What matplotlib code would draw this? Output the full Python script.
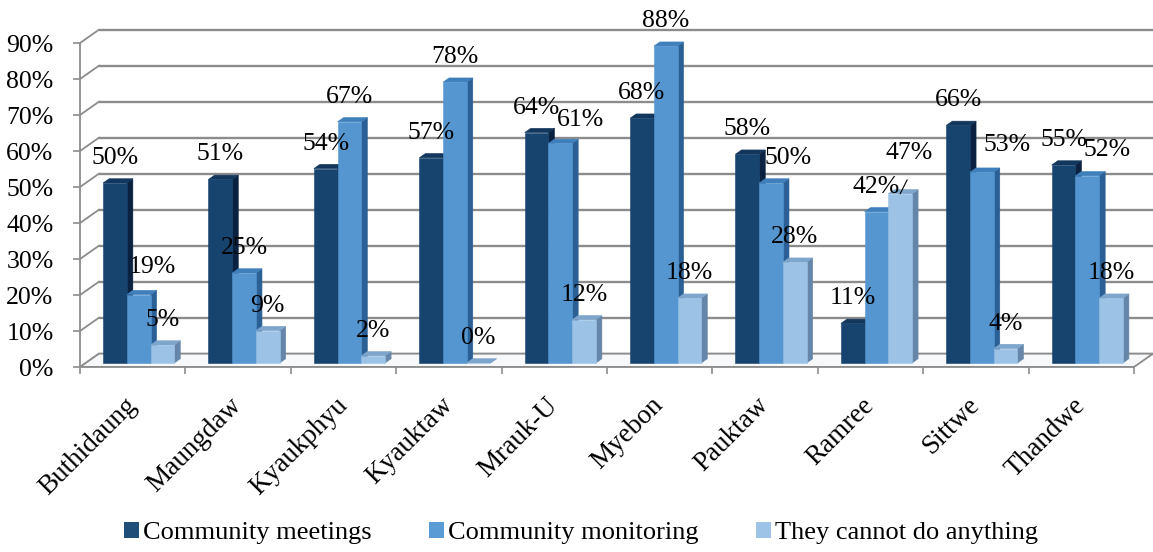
import numpy as np
import matplotlib
matplotlib.use('Agg')
import matplotlib.pyplot as plt
from matplotlib.patches import Polygon, Patch
from matplotlib.transforms import ScaledTranslation

plt.rcParams['font.family'] = ['Liberation Serif', 'DejaVu Serif']

townships = ['Buthidaung', 'Maungdaw', 'Kyaukphyu', 'Kyauktaw', 'Mrauk-U',
             'Myebon', 'Pauktaw', 'Ramree', 'Sittwe', 'Thandwe']
series_names = ['Community meetings', 'Community monitoring', 'They cannot do anything']
meetings = [50, 51, 54, 57, 64, 68, 58, 11, 66, 55]
monitoring = [19, 25, 67, 78, 61, 88, 50, 42, 53, 52]
cannot = [5, 9, 2, 0, 12, 18, 28, 47, 4, 18]
y_ticks = [0, 10, 20, 30, 40, 50, 60, 70, 80, 90]

# face colours per series: front, side, top
front_cols = ['#17436f', '#5596d1', '#9cc3e6']
side_cols = ['#0a223f', '#2a6096', '#6586a8']
top_cols = ['#12365c', '#3f7fbc', '#7ea5cb']
legend_cols = ['#1f4e79', '#5b9bd5', '#9dc3e6']

# 3d depth of the chart box (category units, percent units)
DX, DY = 0.18, 3.7
D1, D2 = 0.30, 0.62          # bar front / back depth fractions
BAR_W, GROUP_START = 0.225, 0.165
grid_col = '#8c8c8c'

fig = plt.figure(figsize=(11.53, 5.52), dpi=100)
ax = fig.add_axes([80 / 1153, 185 / 552, 1073 / 1153, 94 * 3.6 / 552])
xmax = 1073 / 105.4
ax.set_xlim(0, xmax)
ax.set_ylim(0, 94)

# walls: back gridlines and the short diagonals on the left wall
for g in y_ticks:
    ax.plot([DX, xmax + 0.2], [g + DY, g + DY], color=grid_col, lw=1.7,
            zorder=1, clip_on=False, solid_capstyle='butt')
    ax.plot([0, DX], [g, g + DY], color=grid_col, lw=1.3, zorder=1)

# floor
floor = Polygon([(0, 0), (10, 0), (10 + DX, DY), (DX, DY)], closed=True,
                facecolor='#f7f8fa', edgecolor=grid_col, lw=1.3, zorder=1.5)
ax.add_patch(floor)

series = [meetings, monitoring, cannot]
label_shift = {(0, 1): (14, 28), (4, 1): (20, 23), (6, 1): (17, 25),
               (7, 2): (9, 41), (8, 1): (25, 27), (9, 1): (20, 26)}

for i in range(len(townships)):
    for j, vals in enumerate(series):
        v = vals[i]
        k = i * 3 + j
        x0 = i + GROUP_START + j * BAR_W
        x1 = x0 + BAR_W
        z = 3 + 0.01 * k
        side = Polygon([(x1 + D1 * DX, D1 * DY), (x1 + D2 * DX, D2 * DY),
                        (x1 + D2 * DX, v + D2 * DY), (x1 + D1 * DX, v + D1 * DY)],
                       closed=True, facecolor=side_cols[j], edgecolor=side_cols[j],
                       lw=0.4, zorder=z)
        top = Polygon([(x0 + D1 * DX, v + D1 * DY), (x1 + D1 * DX, v + D1 * DY),
                       (x1 + D2 * DX, v + D2 * DY), (x0 + D2 * DX, v + D2 * DY)],
                      closed=True, facecolor=top_cols[j], edgecolor=top_cols[j],
                      lw=0.4, zorder=z)
        ax.add_patch(side)
        ax.add_patch(top)
        bar = ax.bar(x0 + D1 * DX, v, width=BAR_W, bottom=D1 * DY, align='edge',
                     color=front_cols[j], edgecolor=front_cols[j], lw=0.4)
        bar.patches[0].set_zorder(z + 0.005)

        cx = x0 + D1 * DX + BAR_W / 2
        dx, dy = label_shift.get((i, j), (0, 25))
        ax.annotate(f'{v}%', xy=(cx, v + D1 * DY), xytext=(dx * 0.72, dy * 0.72),
                    textcoords='offset points', ha='center', va='center',
                    fontsize=18.5, color='black', zorder=10)
        if (i, j) == (7, 2):
            ax.annotate('', xy=(cx, v + D1 * DY), xytext=(7 * 0.72, 14 * 0.72),
                        textcoords='offset points',
                        arrowprops=dict(arrowstyle='-', color='black', lw=0.8,
                                        shrinkA=0, shrinkB=0), zorder=10)

# axes
for s in ['top', 'right']:
    ax.spines[s].set_visible(False)
ax.spines['left'].set_color(grid_col)
ax.spines['left'].set_linewidth(1.3)
ax.spines['left'].set_bounds(0, 90)
ax.spines['bottom'].set_color(grid_col)
ax.spines['bottom'].set_linewidth(1.3)
ax.spines['bottom'].set_bounds(0, 10)
ax.spines['bottom'].set_zorder(2)

ax.set_yticks(y_ticks)
ax.set_yticklabels([f'{t}%' for t in y_ticks], fontsize=18.5)
ax.tick_params(axis='y', length=5, width=1.2, color=grid_col, pad=14)

ax.set_xticks(np.arange(11))
ax.set_xticklabels([])
ax.set_xticks(np.arange(10) + 0.5, minor=True)
ax.set_xticklabels(townships, minor=True, rotation=45, ha='right', va='center',
                   rotation_mode='anchor', fontsize=19.5)
ax.tick_params(axis='x', which='major', length=5, width=1.2, color=grid_col)
ax.tick_params(axis='x', which='minor', length=0, pad=25)
for lab in ax.get_xticklabels(minor=True):
    lab.set_transform(lab.get_transform() + ScaledTranslation(0, 0, fig.dpi_scale_trans))

handles = [Patch(facecolor=c, edgecolor='none') for c in legend_cols]
fig.legend(handles, series_names, loc='center', bbox_to_anchor=(581 / 1153, 1 - 533 / 552),
           ncol=3, frameon=False, fontsize=19, handlelength=0.55, handleheight=0.55,
           handletextpad=0.15, columnspacing=2.2, borderpad=0)

fig.savefig('out.png', dpi=100)
